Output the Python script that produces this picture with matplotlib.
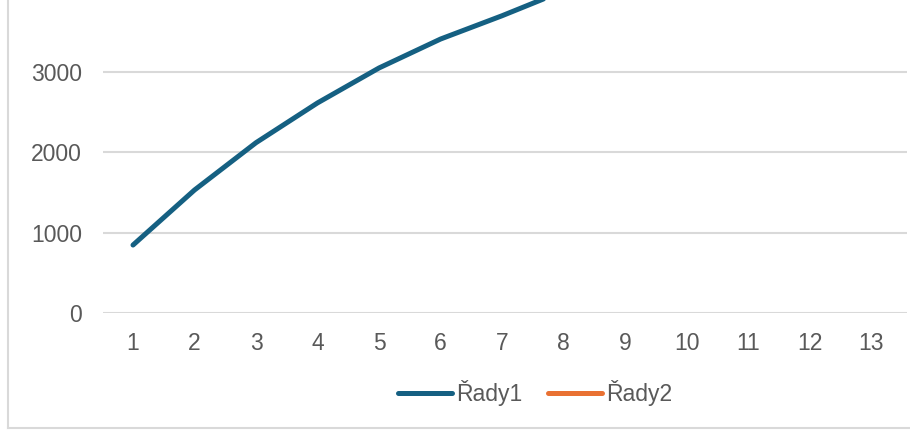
import matplotlib
matplotlib.use("Agg")
import matplotlib.pyplot as plt
import numpy as np

# data (series 2 shows no points in the visible area)
categories = [str(i) for i in range(1, 14)]
rady1 = [846, 1531, 2120, 2615, 3050, 3410, 3700, 4010]
rady2 = []
yticks = [0, 1000, 2000, 3000]

plt.rcParams['font.family'] = ['Liberation Sans', 'DejaVu Sans']

fig = plt.figure(figsize=(9.1, 4.32), dpi=100)
axes = fig.add_axes([103/910, 119/432, 804/910, 313/432])

x = np.arange(1, len(rady1) + 1)
axes.plot(x, rady1, color="#156082", linewidth=3.6, solid_capstyle="round",
          solid_joinstyle="round", label="Řady1")
axes.plot(np.arange(1, len(rady2) + 1), rady2, color="#E97132", linewidth=3.6,
          solid_capstyle="round", label="Řady2")

# category spacing ~61.5 px, first category at x=133
axes.set_xlim(1 - 30/61.5, 13 + 36/61.5)
axes.set_ylim(0, 3000 * 313 / 241)
axes.set_xticks(np.arange(1, len(categories) + 1))
axes.set_xticklabels(categories)
axes.set_yticks(yticks)
axes.set_yticklabels([str(v) for v in yticks])
axes.tick_params(length=0, labelsize=16.5, colors="#595959")
axes.tick_params(axis="y", pad=15)
axes.tick_params(axis="x", pad=14)
axes.grid(axis="y", color="#d9d9d9", linewidth=1.5)
axes.set_axisbelow(True)
for s in axes.spines.values():
    s.set_visible(False)

leg = fig.legend(loc="center", bbox_to_anchor=(535/910, 1 - 393/432), ncol=2,
                 frameon=False, fontsize=16.5, handlelength=2.36, handletextpad=0.17,
                 columnspacing=1.1)
for t in leg.get_texts():
    t.set_color("#595959")

# outer chart border (cropped)
fig.add_artist(plt.Line2D([8/910, 8/910], [4/432, 1], color="#d9d9d9", linewidth=1.5))
fig.add_artist(plt.Line2D([8/910, 1], [4/432, 4/432], color="#d9d9d9", linewidth=1.5))

fig.savefig("out.png", dpi=100)
